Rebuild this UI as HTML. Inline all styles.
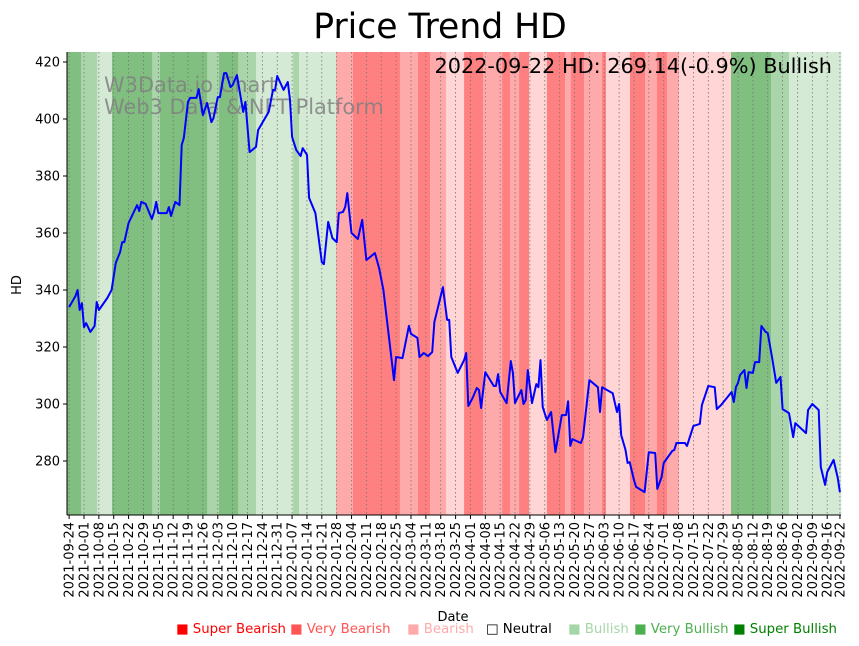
<!DOCTYPE html>
<html><head><meta charset="utf-8"><style>
html,body{margin:0;padding:0;background:#fff;}
svg{display:block;font-family:"DejaVu Sans","Liberation Sans",sans-serif;}
</style></head><body>
<svg id="chart" width="859" height="646" viewBox="0 0 859 646">
<text x="440" y="38" font-size="34.6" text-anchor="middle" fill="#000">Price Trend HD</text>
<g id="bands"></g>
<g id="grid"></g>
<g id="wm">
<text x="104" y="92" font-size="20.9" fill="#808080" fill-opacity="0.85">W3Data.io Chart</text>
<text x="104" y="114" font-size="20.9" fill="#808080" fill-opacity="0.85">Web3 Data &amp; NFT Platform</text>
</g>
<path id="line" fill="none" stroke="#0000ff" stroke-width="2" stroke-linejoin="round"/>
<text x="832" y="73" font-size="20.8" text-anchor="end" fill="#000">2022-09-22 HD: 269.14(-0.9%) Bullish</text>
<g id="axes"></g>
<text x="453" y="621" font-size="13" text-anchor="middle">Date</text>
<text transform="translate(21,285) rotate(-90)" font-size="13" text-anchor="middle">HD</text>
<g font-size="13.3">
<text x="176" y="633" fill="#ff0000">■ Super Bearish</text>
<text x="290" y="633" fill="#ff5555">■ Very Bearish</text>
<text x="407" y="633" fill="#ffaaaa">■ Bearish</text>
<text x="486" y="633" fill="#000000">□ Neutral</text>
<text x="568" y="633" fill="#a5d6a7">■ Bullish</text>
<text x="634" y="633" fill="#4caf50">■ Very Bullish</text>
<text x="733" y="633" fill="#008000">■ Super Bullish</text>
</g>
</svg>
<script>
const days=[0,3,4,5,6,7,8,10,12,13,14,18,20,22,24,25,26,28,32,33,34,36,39,40,41,42,46,47,48,50,52,53,54,56,57,60,61,63,65,67,68,70,71,73,74,76,77,79,82,83,85,88,89,94,96,97,98,101,103,104,105,107,109,110,112,113,116,119,120,122,124,126,127,129,130,131,133,136,138,140,144,146,148,153,154,157,160,161,164,165,167,169,171,172,176,178,179,180,183,186,187,188,190,192,193,194,196,200,201,202,203,206,208,209,210,213,214,215,216,218,220,221,222,223,225,227,229,232,234,235,236,237,241,242,245,249,250,251,256,257,258,259,260,262,263,264,266,267,271,273,276,277,279,280,284,285,286,290,291,294,297,298,301,304,305,307,310,312,313,314,315,316,318,319,320,322,323,325,326,328,329,331,333,335,336,339,341,342,347,348,350,353,354,356,357,360,362,363];
const prices=[334.0,337.9,340.0,333.0,335.4,327.0,328.4,325.3,327.4,335.8,333.0,337.2,340.0,349.5,353.3,356.8,356.8,363.5,369.8,367.7,370.9,370.2,364.9,367.4,370.9,367.0,367.0,369.1,366.0,370.9,369.8,390.9,393.3,406.0,407.4,407.4,410.5,401.4,405.6,398.9,400.3,407.7,407.7,416.1,416.1,411.2,411.9,415.4,402.5,406.0,388.4,390.2,396.1,402.5,410.2,410.2,415.1,410.2,413.0,406.7,393.7,389.1,387.0,389.8,387.4,372.3,367.0,349.8,349.1,363.9,358.2,356.8,367.0,367.4,369.1,374.0,360.0,357.9,364.6,350.5,353.0,347.7,340.0,308.4,316.5,316.1,327.4,324.6,323.2,316.5,317.9,316.8,318.2,328.8,341.0,329.5,329.5,316.5,310.9,315.4,317.9,299.3,302.1,305.6,304.9,298.6,311.2,306.3,306.3,310.5,304.2,300.3,315.1,310.9,300.3,304.9,300.0,301.4,311.9,300.3,307.0,305.9,315.4,298.9,294.4,297.2,283.1,296.1,296.1,301.0,285.3,287.7,286.3,288.4,308.4,305.9,297.2,305.9,303.8,300.3,297.2,300.0,289.1,283.9,279.3,279.6,273.3,270.9,269.1,283.1,282.8,270.2,274.4,279.3,283.5,283.9,286.3,286.3,285.3,292.3,293.0,299.6,306.3,305.9,298.2,299.6,302.4,304.2,300.7,305.9,307.4,310.2,311.9,305.6,311.2,310.9,314.7,314.7,327.4,325.3,324.9,316.5,307.4,309.5,298.2,296.8,288.4,293.3,289.8,297.9,300.0,297.9,277.9,271.6,276.1,280.4,274.0,269.1];
const bandStarts=[-1,5.6,13.2,20.2,39.1,42.8,65,70.6,79.6,88,105.5,108.3,125.7,133.7,155.8,164.3,170,177.5,186,194.9,203.9,207.6,211.9,216.6,225,233.5,236.3,242.5,251,252.8,264.1,271.2,276.8,281.5,287.2,311.7,330.5,339];
const bandLevels=[3,2,1,3,2,3,2,3,2,1,2,1,-2,-3,-2,-3,-2,-1,-3,-2,-3,-2,-3,-1,-3,-2,-3,-2,-3,-1,-3,-2,-3,-2,-1,3,2,1];
const yTicks=[280,300,320,340,360,380,400,420];
const tickDays=[0,7,14,21,28,35,42,49,56,63,70,77,84,91,98,105,112,119,126,133,140,147,154,161,168,175,182,189,196,203,210,217,224,231,238,245,252,259,266,273,280,287,294,301,308,315,322,329,336,343,350,357,363];
const startDate=new Date(Date.UTC(2021,8,24));
const NS='http://www.w3.org/2000/svg';
const X0=-1,X1=363.5,PL=67,PR=841,PT=52,PB=515;
const xs=d=>PL+(d-X0)/(X1-X0)*(PR-PL);
const ys=v=>62+(420-v)*2.85;
const colors={3:'#80bf80','2':'#aad5aa','1':'#d5ead5','-1':'#ffd5d5','-2':'#ffaaaa','-3':'#ff8080'};
function mk(tag,attrs,parent){const e=document.createElementNS(NS,tag);for(const k in attrs)e.setAttribute(k,attrs[k]);parent.appendChild(e);return e;}
const bandsG=document.getElementById('bands');
bandStarts.forEach((s,i)=>{const e=i+1<bandStarts.length?bandStarts[i+1]:X1;
 const r=mk('rect',{x:xs(s),y:PT,width:xs(e)-xs(s)+0.3,height:PB-PT,fill:colors[bandLevels[i]]},bandsG);
 
 });
const gridG=document.getElementById('grid');
const axesG=document.getElementById('axes');
tickDays.forEach(d=>{const x=xs(d);
 const l=mk('line',{x1:x,x2:x,y1:PT,y2:PB,stroke:'#777','stroke-width':0.8,'stroke-dasharray':'1.5,2.5'},gridG);
 
 
 mk('line',{x1:x,x2:x,y1:PB,y2:PB+4,stroke:'#000','stroke-width':1},axesG);
 const dt=new Date(startDate.getTime()+d*86400000);
 const lab=dt.toISOString().slice(0,10);
 const t=mk('text',{transform:`translate(${x+4.5},${PB+7}) rotate(-90)`,'font-size':13,'text-anchor':'end'},axesG);
 t.textContent=lab;
 
 });
yTicks.forEach(v=>{const y=ys(v);
 mk('line',{x1:PL-4,x2:PL,y1:y,y2:y,stroke:'#000','stroke-width':1},axesG);
 const t=mk('text',{x:PL-7,y:y+4.5,'font-size':13,'text-anchor':'end'},axesG);
 t.textContent=v;
 
 });
const sp1=mk('line',{x1:PL,x2:PL,y1:PT,y2:PB,stroke:'#000','stroke-width':1},axesG);


const sp2=mk('line',{x1:PL,x2:PR,y1:PB,y2:PB,stroke:'#000','stroke-width':1},axesG);


document.getElementById('line').setAttribute('d',days.map((d,i)=>(i?'L':'M')+xs(d).toFixed(1)+','+ys(prices[i]).toFixed(1)).join(''));
</script>
</body></html>
